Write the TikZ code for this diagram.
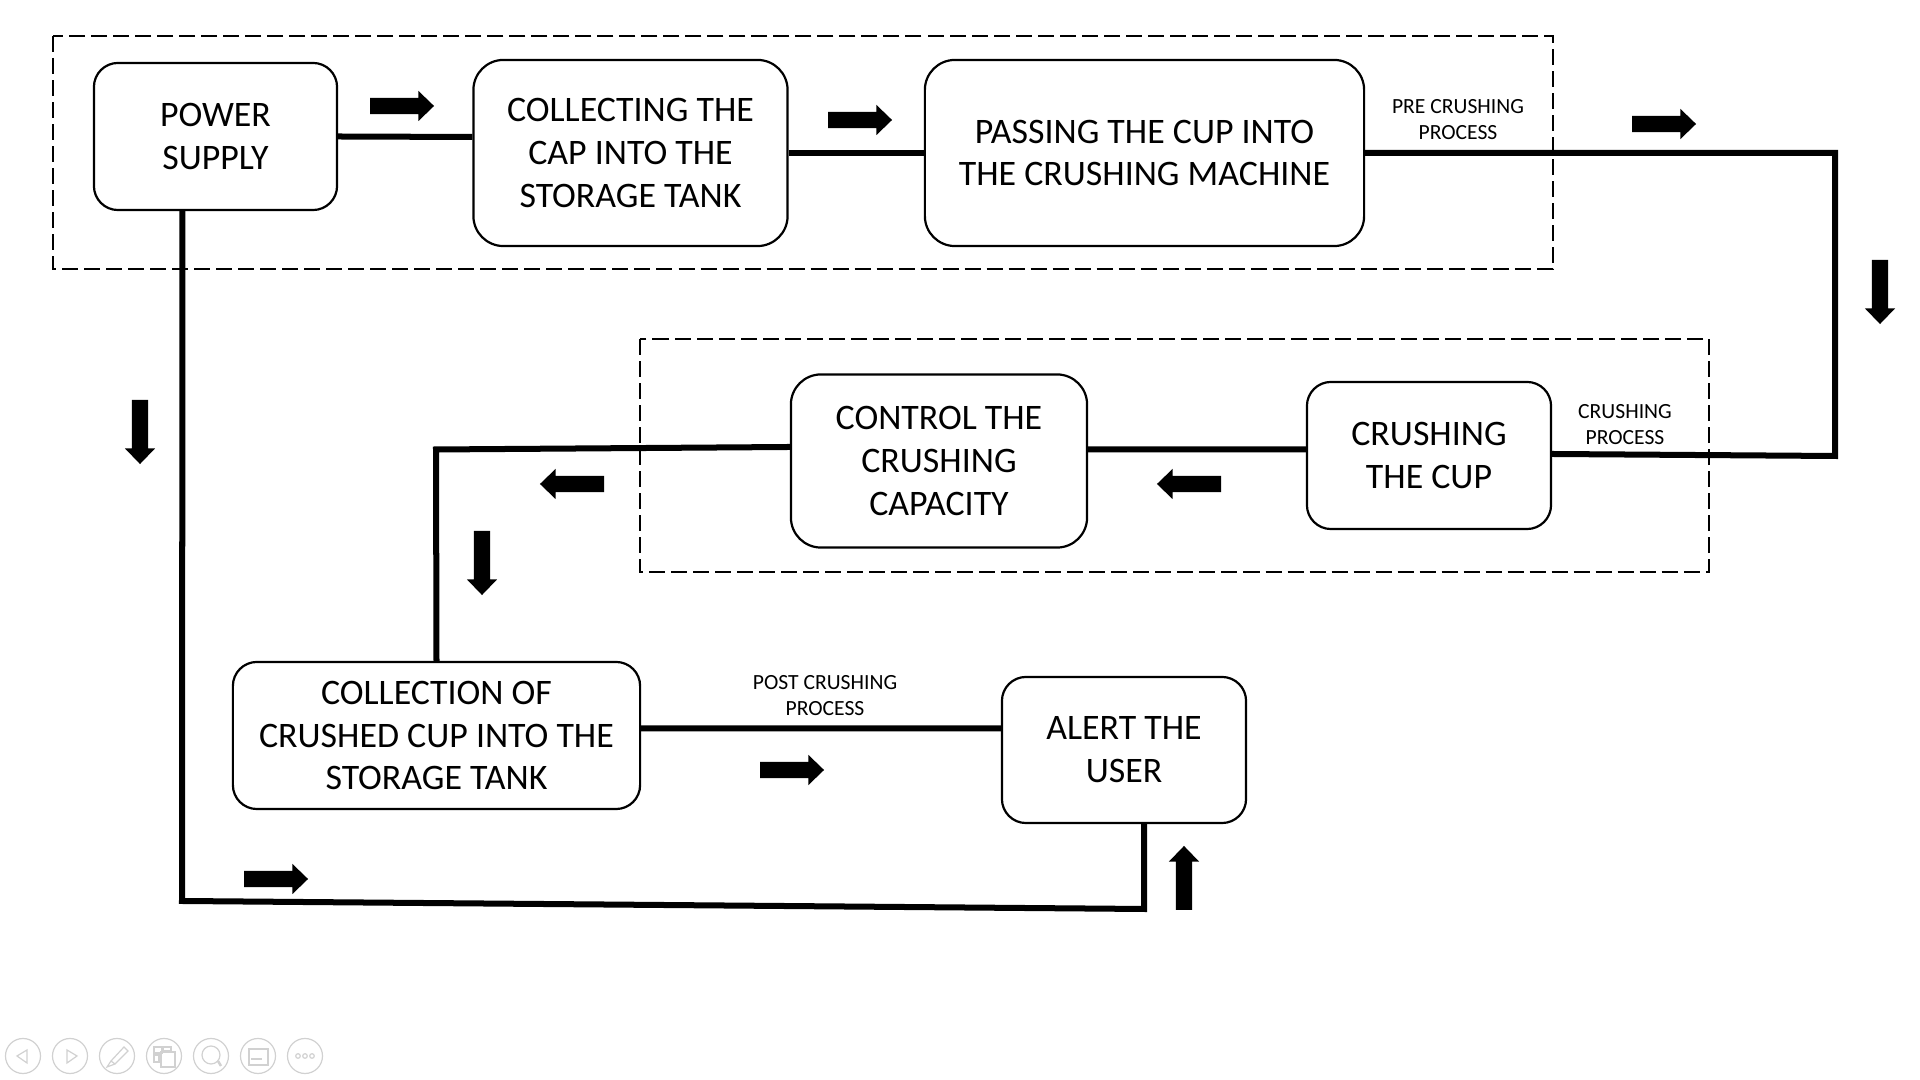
\documentclass[tikz,border=0pt]{standalone}
\usepackage{fontspec}
\setmainfont{Carlito}
\usetikzlibrary{shapes.arrows}
\tikzset{
procbox/.style={draw,rounded corners=.24cm,line width=.022cm,align=center,inner sep=0pt,fill=white,
  font=\fontsize{10.2}{12.2}\selectfont},
smalltext/.style={align=center,inner sep=0pt,font=\fontsize{6.15}{7.3}\selectfont},
flowline/.style={line width=.06cm},
processframe/.style={line width=.02cm,dash pattern=on .16cm off .06cm},
blockarrow/.style={single arrow,fill=black,inner xsep=0pt,inner ysep=.075cm,outer sep=0pt,minimum height=.64cm,
  single arrow head extend=.07cm,single arrow tip angle=88,anchor=tail},
toolicon/.style={draw=black!18,line width=.012cm},
}
\begin{document}
\begin{tikzpicture}[x=.01cm,y=-.01cm]
\useasboundingbox (0,0) rectangle (1920,1080);
% dashed groups
\draw[processframe] (53,36) rectangle (1553,269);
\draw[processframe] (640,339) rectangle (1709,572);
% boxes
\node[procbox,minimum width=2.43cm,minimum height=1.47cm] (power) at (215.5,136.5) {POWER\\SUPPLY};
\node[procbox,minimum width=3.14cm,minimum height=1.86cm,rounded corners=.3cm] (collecting) at (630.5,153) {COLLECTING THE\\CAP INTO THE\\STORAGE TANK};
\node[procbox,minimum width=4.39cm,minimum height=1.86cm,rounded corners=.3cm] (passing) at (1144.5,153) {PASSING THE CUP INTO\\THE CRUSHING MACHINE};
\node[procbox,minimum width=2.44cm,minimum height=1.47cm] (crushing) at (1429,455.5) {CRUSHING\\THE CUP};
\node[procbox,minimum width=2.96cm,minimum height=1.73cm,rounded corners=.3cm] (control) at (939,461) {CONTROL THE\\CRUSHING\\CAPACITY};
\node[procbox,minimum width=4.07cm,minimum height=1.47cm] (collection) at (436.5,735.5) {COLLECTION OF\\CRUSHED CUP INTO THE\\STORAGE TANK};
\node[procbox,minimum width=2.44cm,minimum height=1.46cm] (alert) at (1124,750) {ALERT THE\\USER};
% labels
\node[smalltext] (prelabel) at (1458,119.5) {PRE CRUSHING\\PROCESS};
\node[smalltext] (crushlabel) at (1625,424.5) {CRUSHING\\PROCESS};
\node[smalltext] (postlabel) at (825,695.5) {POST CRUSHING\\PROCESS};
% corners
\coordinate (topright) at (1835,153);
\coordinate (midright) at (1835,456);
\coordinate (midleft) at (436,449.5);
\coordinate (lowleft) at (182,901);
\coordinate (lowright) at (1144,909);
% connectors
\draw[flowline] (power.east)--([yshift=.16cm]collecting.west);
\draw[flowline] (collecting.east)--(passing.west);
\draw[flowline] (passing.east)--(topright)--(midright)--([yshift=.015cm]crushing.east);
\draw[flowline] ([yshift=.06cm]crushing.west)--([yshift=.115cm]control.east);
\draw[flowline] ([yshift=.14cm]control.west)--(midleft)--(collection.north);
\draw[flowline] ([yshift=.07cm]collection.east)--([yshift=.215cm]alert.west);
\draw[flowline] ([xshift=-.33cm]power.south)--(lowleft)--(lowright)--([xshift=.2cm]alert.south);
% block arrows
\node[blockarrow] (arrowa) at (370,106) {};
\node[blockarrow] (arrowb) at (828,120) {};
\node[blockarrow] (arrowc) at (1632,124) {};
\node[blockarrow,rotate=270] (arrowd) at (1880,260) {};
\node[blockarrow,rotate=180] (arrowe) at (1221,484) {};
\node[blockarrow,rotate=180] (arrowf) at (604,484) {};
\node[blockarrow,rotate=270] (arrowg) at (482,531) {};
\node[blockarrow,rotate=270] (arrowh) at (140,400) {};
\node[blockarrow] (arrowi) at (760,770) {};
\node[blockarrow] (arrowj) at (244,879) {};
\node[blockarrow,rotate=90] (arrowk) at (1184,910) {};
% player buttons
\foreach \n/\cx in {1/23,2/70,3/117,4/164,5/211,6/258,7/305}
  \node[toolicon,circle,minimum size=.35cm,inner sep=0pt] (button\n) at (\cx,1056) {};
\draw[toolicon] (17,1056)--(27,1050)--(27,1063)--cycle;
\draw[toolicon] (77,1056)--(67,1050)--(67,1063)--cycle;
\draw[toolicon] (111,1061)--(124,1047)--(128,1051)--(115,1064)--cycle (111,1061)--(107,1067)--(115,1064);
\draw[toolicon] (154,1047) rectangle (162,1053) (163,1047) rectangle (171,1051) (154,1055) rectangle (159,1062) (161,1052) rectangle (175,1067);
\draw[toolicon] (211,1055) circle (.09cm);
\draw[toolicon,line width=.025cm] (218,1061)--(221,1066);
\draw[toolicon] (249,1049) rectangle (268,1065);
\draw[toolicon,dashed] (251,1059)--(266,1059);
\foreach \dx in {-7,0,7}
  \draw[toolicon] (305+\dx,1056) circle (.023cm);
\end{tikzpicture}
\end{document}
